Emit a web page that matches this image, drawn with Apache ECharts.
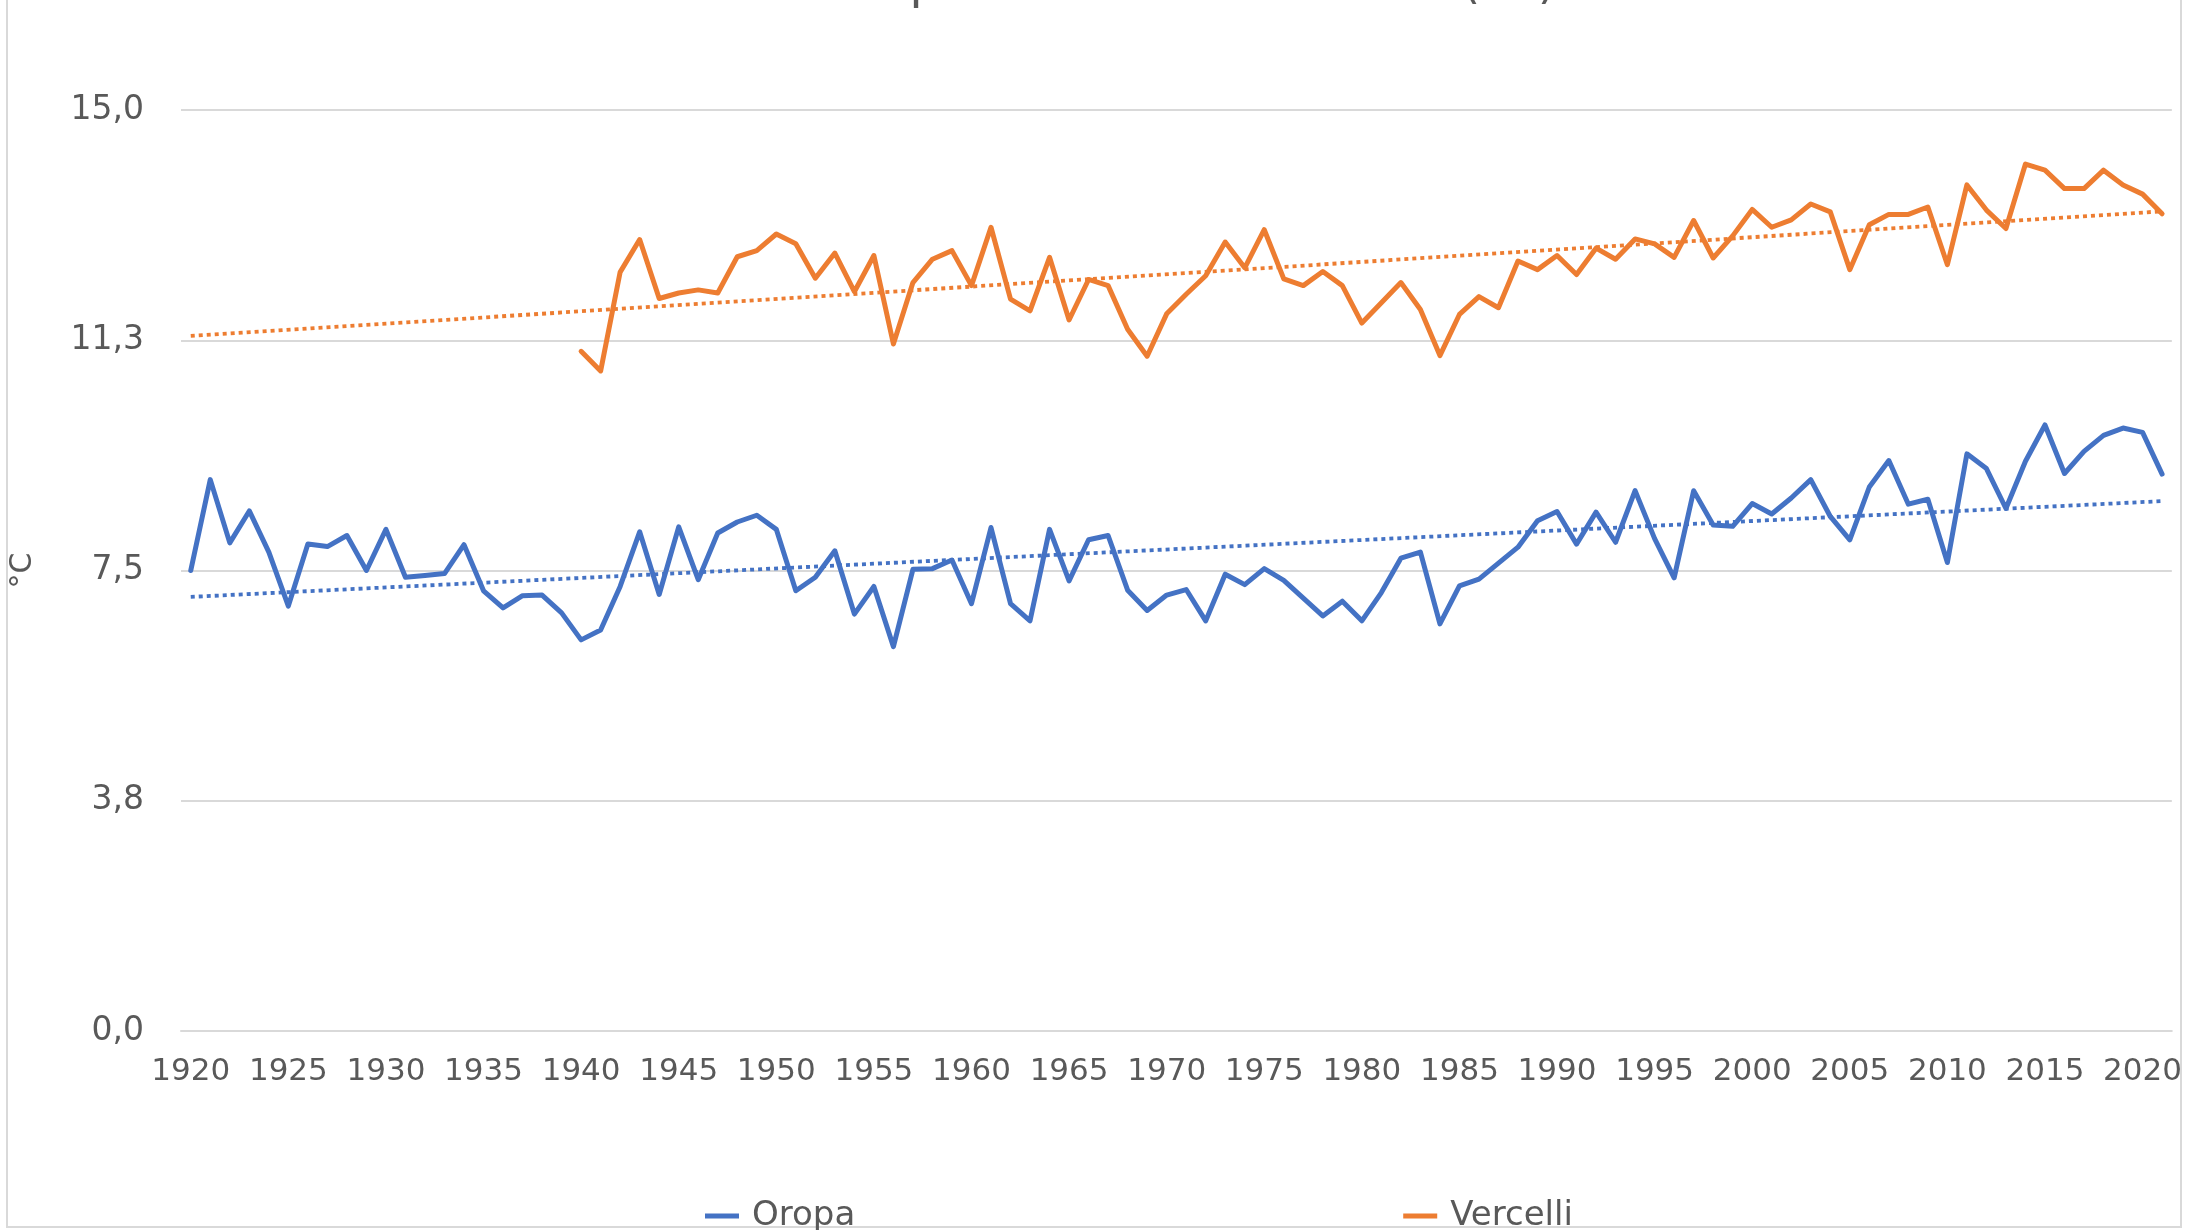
<!DOCTYPE html>
<html>
<head>
<meta charset="utf-8">
<script src="https://cdn.jsdelivr.net/npm/echarts@6/dist/echarts.min.js"></script>
<style>
html,body{margin:0;padding:0;background:#fff;}
#chart{width:2185px;height:1230px;}
</style>
</head>
<body>
<div id="chart"></div>
<script>
// ---- Data ----
const firstYear = 1920, lastYear = 2021;
const years = [];
for (let y = firstYear; y <= lastYear; y++) years.push(String(y));

const oropa = [
  7.50, 8.98, 7.95, 8.47, 7.80, 6.92, 7.93, 7.89, 8.07, 7.50,
  8.17, 7.39, 7.42, 7.45, 7.92, 7.17, 6.89, 7.09, 7.10, 6.81,
  6.37, 6.53, 7.24, 8.13, 7.11, 8.21, 7.35, 8.11, 8.29, 8.40,
  8.17, 7.17, 7.39, 7.82, 6.79, 7.24, 6.26, 7.52, 7.53, 7.67,
  6.96, 8.20, 6.96, 6.68, 8.17, 7.33, 8.00, 8.07, 7.18, 6.85,
  7.10, 7.19, 6.68, 7.44, 7.27, 7.53, 7.34, 7.05, 6.76, 7.00,
  6.68, 7.14, 7.70, 7.80, 6.63, 7.25, 7.36, 7.62, 7.88, 8.31,
  8.46, 7.93, 8.45, 7.96, 8.80, 8.02, 7.38, 8.80, 8.24, 8.22,
  8.59, 8.42, 8.68, 8.98, 8.38, 8.00, 8.86, 9.29, 8.58, 8.66,
  7.63, 9.40, 9.16, 8.51, 9.28, 9.87, 9.08, 9.44, 9.70, 9.82,
  9.75, 9.07
];

const vercelliStart = 1940;
const vercelliValues = [
  11.07, 10.75, 12.36, 12.89, 11.93, 12.02, 12.07, 12.02, 12.61, 12.71,
  12.98, 12.82, 12.26, 12.67, 12.04, 12.63, 11.19, 12.19, 12.57, 12.71,
  12.14, 13.09, 11.92, 11.73, 12.60, 11.58, 12.24, 12.14, 11.43, 10.99,
  11.68, 12.00, 12.30, 12.85, 12.43, 13.05, 12.25, 12.14, 12.37, 12.14,
  11.53, 11.86, 12.19, 11.75, 11.00, 11.67, 11.96, 11.78, 12.54, 12.40,
  12.63, 12.32, 12.75, 12.57, 12.90, 12.82, 12.60, 13.20, 12.59, 12.95,
  13.38, 13.09, 13.21, 13.47, 13.34, 12.40, 13.13, 13.30, 13.30, 13.42,
  12.48, 13.78, 13.37, 13.07, 14.12, 14.02, 13.72, 13.72, 14.02, 13.78,
  13.63, 13.31
];

// trend line values read at first and last year
const oropaTrend = [7.07, 8.63];
const vercelliTrend = [11.32, 13.35];

const titleText = 'Andamento temperature medie annue (°C)';

// ---- Build ----
const vercelli = years.map((y) => {
  const i = Number(y) - vercelliStart;
  return i >= 0 && i < vercelliValues.length ? vercelliValues[i] : null;
});
function trendData(ends) {
  return years.map((y, i) => i === 0 ? ends[0] : (i === years.length - 1 ? ends[1] : null));
}

const BLUE = '#4472C4', ORANGE = '#ED7D31', GRAY = '#595959';
const FONT = 'DejaVu Sans';

const chart = echarts.init(document.getElementById('chart'));
chart.setOption({
  animation: false,
  backgroundColor: '#fff',
  textStyle: { fontFamily: FONT },
  graphic: [
    { type: 'rect', shape: { x: 7, y: -10, width: 2174, height: 1237 },
      style: { fill: 'none', stroke: '#D9D9D9', lineWidth: 2 }, silent: true },
    { type: 'text', left: 521, top: -38,
      style: { text: titleText, font: '48px "DejaVu Sans"', fill: GRAY } }
  ],
  grid: { left: 181, right: 11, top: 110, height: 921, containLabel: false },
  legend: {
    data: ['Oropa', 'Vercelli'],
    left: 700, top: 1194,
    icon: 'rect', itemWidth: 34, itemHeight: 5, itemGap: 548,
    textStyle: { fontSize: 34, color: GRAY, fontFamily: FONT, padding: [0, 0, 0, 8] }
  },
  xAxis: {
    type: 'category', data: years, boundaryGap: true,
    axisLine: { show: true, lineStyle: { color: '#D9D9D9', width: 2 } },
    axisTick: { show: false },
    axisLabel: { interval: 4, color: GRAY, fontSize: 31, margin: 25, fontFamily: FONT }
  },
  yAxis: {
    type: 'value', min: 0, max: 15, interval: 3.75,
    name: '°C', nameLocation: 'middle', nameRotate: 90, nameGap: 143,
    nameTextStyle: { color: GRAY, fontSize: 30, fontFamily: FONT },
    axisLine: { show: false }, axisTick: { show: false },
    axisLabel: { color: GRAY, fontSize: 33, margin: 37, fontFamily: FONT,
      formatter: (v) => v.toFixed(1).replace('.', ',') },
    splitLine: { lineStyle: { color: '#D9D9D9', width: 2 } }
  },
  series: [
    { name: 'Oropa', type: 'line', data: oropa, symbol: 'none', z: 3,
      itemStyle: { color: BLUE },
      lineStyle: { color: BLUE, width: 5, cap: 'round', join: 'round' } },
    { name: 'Vercelli', type: 'line', data: vercelli, symbol: 'none', z: 3,
      itemStyle: { color: ORANGE },
      lineStyle: { color: ORANGE, width: 5, cap: 'round', join: 'round' } },
    { name: 'Oropa trend', type: 'line', data: trendData(oropaTrend), connectNulls: true,
      symbol: 'none', z: 2, silent: true,
      lineStyle: { color: BLUE, width: 3.8, type: [4, 4], cap: 'butt' } },
    { name: 'Vercelli trend', type: 'line', data: trendData(vercelliTrend), connectNulls: true,
      symbol: 'none', z: 2, silent: true,
      lineStyle: { color: ORANGE, width: 3.8, type: [4, 4], cap: 'butt' } }
  ]
});
</script>
</body>
</html>
